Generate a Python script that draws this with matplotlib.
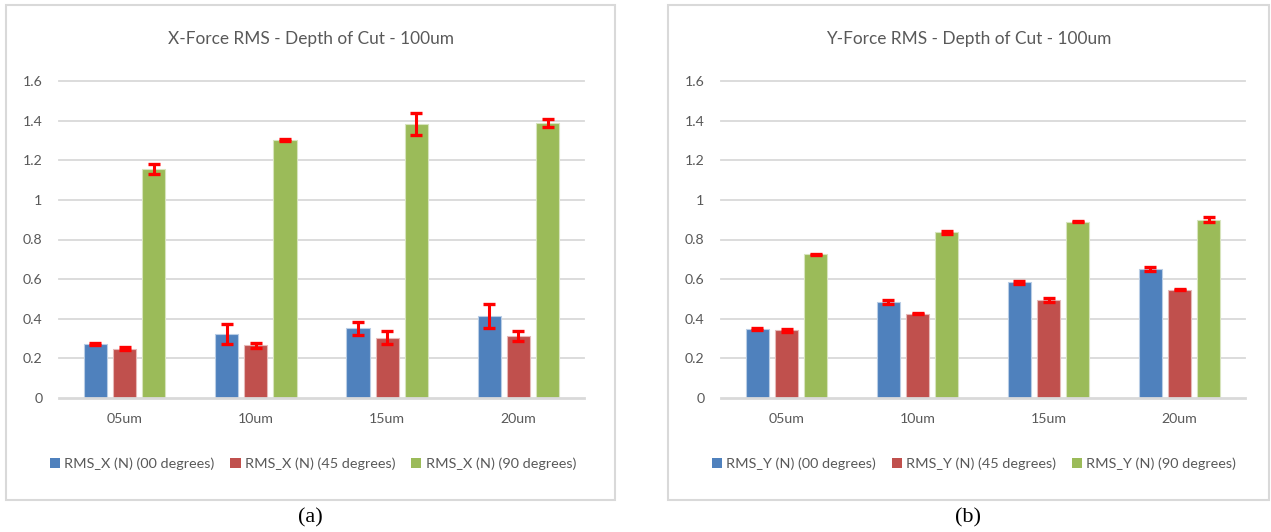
import matplotlib
matplotlib.use("Agg")
import matplotlib.pyplot as plt
import numpy as np
from matplotlib.patches import Rectangle, Patch

categories = ["05um", "10um", "15um", "20um"]

x_labels = ["RMS_X (N) (00 degrees)", "RMS_X (N) (45 degrees)", "RMS_X (N) (90 degrees)"]
x_00 = [0.271, 0.322, 0.351, 0.415]
x_45 = [0.249, 0.265, 0.305, 0.314]
x_90 = [1.157, 1.302, 1.383, 1.387]
x_00_err = [0.005, 0.049, 0.031, 0.060]
x_45_err = [0.006, 0.013, 0.031, 0.024]
x_90_err = [0.025, 0.005, 0.054, 0.021]

y_labels = ["RMS_Y (N) (00 degrees)", "RMS_Y (N) (45 degrees)", "RMS_Y (N) (90 degrees)"]
y_00 = [0.348, 0.485, 0.583, 0.650]
y_45 = [0.341, 0.426, 0.495, 0.547]
y_90 = [0.725, 0.836, 0.890, 0.900]
y_00_err = [0.004, 0.011, 0.008, 0.010]
y_45_err = [0.009, 0.004, 0.008, 0.003]
y_90_err = [0.003, 0.008, 0.003, 0.014]

titles = ["X-Force RMS - Depth of Cut - 100um", "Y-Force RMS - Depth of Cut - 100um"]
sub_labels = ["(a)", "(b)"]
yticks = [0, 0.2, 0.4, 0.6, 0.8, 1.0, 1.2, 1.4, 1.6]
ytick_labels = ["0", "0.2", "0.4", "0.6", "0.8", "1", "1.2", "1.4", "1.6"]

colors = ["#4F81BD", "#C0504D", "#9BBB59"]
edge_colors = ["#B9CDE5", "#E6B9B8", "#D7E4BD"]
text_color = "#595959"
grid_color = "#D9D9D9"
FONT = ["Lato", "DejaVu Sans"]

W, H = 1271, 532
fig = plt.figure(figsize=(W / 100, H / 100), dpi=100)
fig.patch.set_facecolor("white")

panels = [
    dict(ax=(59, 584), box=(6, 615), series=[x_00, x_45, x_90], errs=[x_00_err, x_45_err, x_90_err],
         labels=x_labels, title=titles[0], sub=sub_labels[0], legx=313),
    dict(ax=(721, 1245), box=(668, 1269), series=[y_00, y_45, y_90], errs=[y_00_err, y_45_err, y_90_err],
         labels=y_labels, title=titles[1], sub=sub_labels[1], legx=974),
]

ax_top, ax_bot = 81, 398
for p in panels:
    x0, x1 = p["ax"]
    ax = fig.add_axes([x0 / W, 1 - ax_bot / H, (x1 - x0) / W, (ax_bot - ax_top) / H])
    pos = np.arange(len(categories))
    offsets = [-0.222, 0.0, 0.222]
    width = 0.176
    for i in range(3):
        ax.bar(pos + offsets[i], p["series"][i], width, color=colors[i], edgecolor=edge_colors[i],
               linewidth=0.8, zorder=3, label=p["labels"][i])
        ax.errorbar(pos + offsets[i], p["series"][i], yerr=p["errs"][i], fmt="none", ecolor="#FF0000",
                    elinewidth=2.2, capsize=4.2, capthick=2.4, zorder=4)
    ax.set_xlim(-0.5, 3.5)
    ax.set_ylim(0, 1.6)
    ax.set_yticks(yticks)
    ax.set_yticklabels(ytick_labels)
    ax.set_xticks(pos)
    ax.set_xticklabels(categories)
    for s in ax.spines.values():
        s.set_visible(False)
    ax.tick_params(axis="both", length=0, colors=text_color, labelsize=10.2)
    ax.tick_params(axis="y", pad=12)
    ax.tick_params(axis="x", pad=11)
    for lab in ax.get_xticklabels() + ax.get_yticklabels():
        lab.set_family(FONT)
        lab.set_color(text_color)
    for yv in yticks[1:]:
        ax.axhline(yv, color=grid_color, linewidth=1.3, zorder=1, clip_on=False)
    ax.axhline(0, color=grid_color, linewidth=2.0, zorder=5, clip_on=False)

    b0, b1 = p["box"]
    fig.patches.append(Rectangle((b0 / W, 1 - 500 / H), (b1 - b0) / W, (500 - 5) / H,
                                 transform=fig.transFigure, fill=False, edgecolor=grid_color,
                                 linewidth=1.5, zorder=0))
    cx = (b0 + b1) / 2 / W
    fig.text(cx, 1 - 39 / H, p["title"], ha="center", va="center", fontsize=12.4,
             color=text_color, family=FONT)
    handles = [Patch(facecolor=colors[i], edgecolor="none") for i in range(3)]
    fig.legend(handles, p["labels"], loc="center", bbox_to_anchor=(p["legx"] / W, 1 - 464 / H),
               ncol=3, frameon=False, handlelength=0.7, handleheight=0.7, handletextpad=0.3,
               columnspacing=1.1, prop={"family": FONT, "size": 10.4}, labelcolor=text_color,
               bbox_transform=fig.transFigure)
    fig.text(cx, 1 - 518 / H, p["sub"], ha="center", va="center", fontsize=16,
             color="black", family=["Liberation Serif", "DejaVu Serif"])

fig.savefig("out.png", dpi=100, facecolor="white")
